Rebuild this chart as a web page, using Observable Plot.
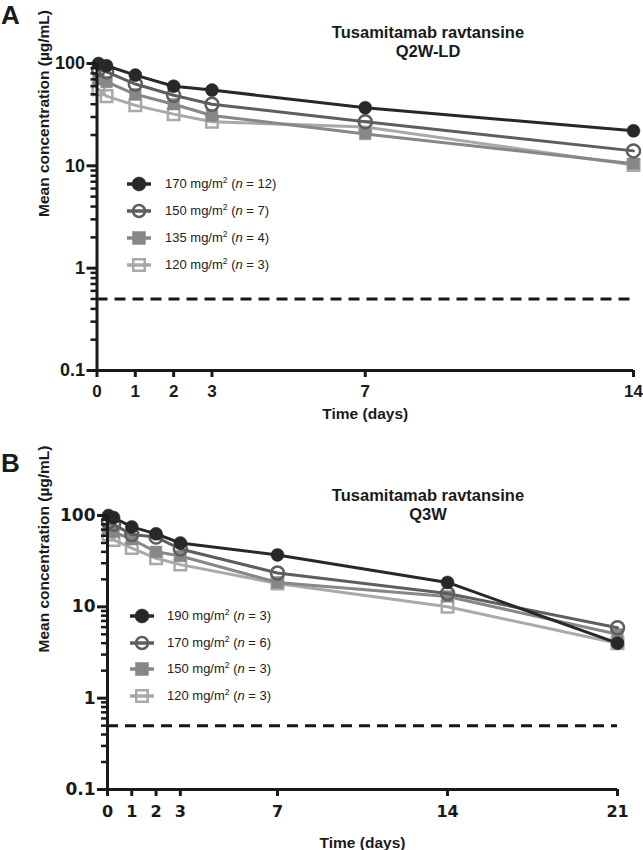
<!DOCTYPE html>
<html>
<head>
<meta charset="utf-8">
<script src="https://cdn.jsdelivr.net/npm/d3@7"></script>
<script src="https://cdn.jsdelivr.net/npm/@observablehq/plot@0.6"></script>
<style>
  html, body { margin: 0; padding: 0; background: #fff; }
  #root { position: relative; width: 643px; height: 850px; overflow: hidden; font-family: "Liberation Sans", Arial, sans-serif; color: #1a1a1a; }
  .panel { position: absolute; left: 0; width: 643px; }
  .abs { position: absolute; white-space: nowrap; }
  .letter { font-size: 26px; font-weight: bold; line-height: 26px; }
  .title { width: 400px; text-align: center; font-size: 16.5px; font-weight: bold; line-height: 18.5px; }
  .legtext { font-size: 13px; line-height: 18px; color: #222; }
  .legtext sup { font-size: 8.5px; vertical-align: 5px; line-height: 0; }
</style>
</head>
<body>
<div id="root"></div>
<script>
// ---------------- DATA ----------------
// Panel A: Q2W-LD
const titleA = ["Tusamitamab ravtansine", "Q2W-LD"];
const daysA = [0.04, 0.25, 1, 2, 3, 7, 14];
const dosesA = [170, 150, 135, 120];
const nA = [12, 7, 4, 3];
const concA_170 = [100, 95, 77, 60, 55, 37, 22];
const concA_150 = [88, 83, 63, 49, 40, 27, 14];
const concA_135 = [70, 66, 50, 40, 31, 20.5, 10.5];
const concA_120 = [56, 48, 39, 32, 27, 24, 10.2];
const xTicksA = [0, 1, 2, 3, 7, 14];

// Panel B: Q3W
const titleB = ["Tusamitamab ravtansine", "Q3W"];
const daysB = [0.04, 0.25, 1, 2, 3, 7, 14, 21];
const dosesB = [190, 170, 150, 120];
const nB = [3, 6, 3, 3];
const concB_190 = [100, 95, 75, 63, 50, 37, 18.5, 4.0];
const concB_170 = [85, 80, 62, 58, 43, 23.5, 14, 5.9];
const concB_150 = [72, 66, 55, 40, 36, 18.5, 13, 5.0];
const concB_120 = [62, 54, 44, 34, 29, 18, 10, 4.0];
const xTicksB = [0, 1, 2, 3, 7, 14, 21];

const yTicks = [0.1, 1, 10, 100];
const yMinorTicks = [0.2, 0.3, 0.4, 0.5, 0.6, 0.7, 0.8, 0.9, 2, 3, 4, 5, 6, 7, 8, 9, 20, 30, 40, 50, 60, 70, 80, 90];
const lloq = 0.5;
const yLabel = "Mean concentration (µg/mL)";
const xLabel = "Time (days)";

// ---------------- STYLES ----------------
const seriesStyle = [
  {color: "#282828", symbol: "circle", filled: true},
  {color: "#5e5e5e", symbol: "circle", filled: false},
  {color: "#878787", symbol: "square", filled: true},
  {color: "#a9a9a9", symbol: "square", filled: false}
];

const root = document.getElementById("root");

function seriesMarks(days, concs) {
  const marks = [];
  for (let i = concs.length - 1; i >= 0; i--) {
    const st = seriesStyle[i];
    const rows = days.map((t, j) => ({t, v: concs[i][j]}));
    marks.push(Plot.line(rows, {x: "t", y: "v", stroke: st.color, strokeWidth: 3}));
    marks.push(Plot.dot(rows, {
      x: "t", y: "v", symbol: st.symbol, r: 6.5,
      fill: st.filled ? st.color : "none",
      stroke: st.color, strokeWidth: st.filled ? 0.5 : 2.5
    }));
  }
  return marks;
}

function makePanel(cfg) {
  const div = document.createElement("div");
  div.className = "panel";
  div.style.top = cfg.top + "px";
  div.style.height = cfg.height + "px";
  root.appendChild(div);

  const chart = Plot.plot({
    width: 643, height: cfg.height,
    marginTop: cfg.marginTop, marginBottom: cfg.marginBottom,
    marginLeft: cfg.marginLeft, marginRight: cfg.marginRight,
    x: {domain: [0, cfg.xMax]},
    y: {type: "log", domain: [0.1, 100]},
    style: {fontFamily: "'Liberation Sans', Arial, sans-serif", color: "#1a1a1a", background: "transparent", overflow: "visible"},
    marks: [
      Plot.ruleY([lloq], {stroke: "#161616", strokeWidth: 3, strokeDasharray: "11,7"}),
      ...seriesMarks(cfg.days, cfg.concs),
      Plot.ruleX([0], {stroke: "#1a1a1a", strokeWidth: 3}),
      Plot.ruleY([0.1], {stroke: "#1a1a1a", strokeWidth: 3}),
      Plot.axisY({ticks: yMinorTicks, tickSize: 6, tickFormat: () => "", strokeWidth: 2.5, label: null}),
      Plot.axisY({ticks: yTicks, tickSize: 10, tickPadding: 2, tickFormat: d => String(d),
        strokeWidth: 3, fontSize: cfg.yTickFont, fontWeight: "bold", fontFamily: cfg.tickFamily, label: null}),
      Plot.axisX({ticks: cfg.xTicks, tickSize: 7, tickPadding: cfg.xTickPad, tickFormat: d => String(d),
        strokeWidth: 3, fontSize: cfg.xTickFont, fontWeight: "bold", fontFamily: cfg.tickFamily, label: null}),
      Plot.text([yLabel], {frameAnchor: "left", dx: cfg.yLabelDx, rotate: -90, fontSize: 15.5, fontWeight: "bold", lineAnchor: "middle"}),
      Plot.text([xLabel], {frameAnchor: "bottom", dy: cfg.xLabelDy, fontSize: 15.5, fontWeight: "bold", lineAnchor: "middle"})
    ]
  });
  chart.style.position = "absolute";
  chart.style.left = "0px";
  chart.style.top = "0px";
  div.appendChild(chart);

  const L = document.createElement("div");
  L.className = "abs letter";
  L.style.left = "1px"; L.style.top = cfg.letterTop + "px";
  L.textContent = cfg.letter;
  div.appendChild(L);

  const T = document.createElement("div");
  T.className = "abs title";
  T.style.left = (428 - 200) + "px"; T.style.top = cfg.titleTop + "px";
  T.innerHTML = cfg.title.join("<br>");
  div.appendChild(T);

  cfg.doses.forEach((dose, i) => {
    const st = seriesStyle[i];
    const cy = cfg.legTop + i * cfg.legStep;
    const ns = "http://www.w3.org/2000/svg";
    const svg = document.createElementNS(ns, "svg");
    svg.setAttribute("width", 28); svg.setAttribute("height", 18);
    svg.style.position = "absolute";
    svg.style.left = (cfg.legX - 14) + "px";
    svg.style.top = (cy - 9) + "px";
    svg.style.overflow = "visible";
    const ln = document.createElementNS(ns, "line");
    ln.setAttribute("x1", 2); ln.setAttribute("x2", 26); ln.setAttribute("y1", 9); ln.setAttribute("y2", 9);
    ln.setAttribute("stroke", st.color); ln.setAttribute("stroke-width", 3.5);
    svg.appendChild(ln);
    let m;
    if (st.symbol === "circle") {
      m = document.createElementNS(ns, "circle");
      m.setAttribute("cx", 14); m.setAttribute("cy", 9); m.setAttribute("r", st.filled ? 7 : 6);
    } else {
      m = document.createElementNS(ns, "rect");
      const s = st.filled ? 13 : 11.5;
      m.setAttribute("x", 14 - s / 2); m.setAttribute("y", 9 - s / 2);
      m.setAttribute("width", s); m.setAttribute("height", s);
    }
    m.setAttribute("fill", st.filled ? st.color : "none");
    m.setAttribute("stroke", st.color);
    m.setAttribute("stroke-width", st.filled ? 0.5 : 2.5);
    svg.appendChild(m);
    div.appendChild(svg);

    const tx = document.createElement("div");
    tx.className = "abs legtext";
    tx.style.left = cfg.legTextX + "px";
    tx.style.top = (cy - 9) + "px";
    tx.innerHTML = dose + " mg/m<sup>2</sup> (<i>n</i> = " + cfg.ns[i] + ")";
    div.appendChild(tx);
  });
}

makePanel({
  top: 0, height: 425, marginTop: 63, marginBottom: 55, marginLeft: 96.5, marginRight: 10,
  xMax: 14, days: daysA, concs: [concA_170, concA_150, concA_135, concA_120],
  xTicks: xTicksA, xTickPad: 7, xTickFont: 17, yTickFont: 18,
  tickFamily: "'Liberation Sans', Arial, sans-serif",
  yLabelDx: -53, xLabelDy: 44,
  letter: "A", letterTop: 2, title: titleA, titleTop: 23,
  doses: dosesA, ns: nA, legTop: 184, legStep: 27, legX: 138.5, legTextX: 165
});

makePanel({
  top: 430, height: 419, marginTop: 85, marginBottom: 60, marginLeft: 107, marginRight: 26,
  xMax: 21, days: daysB, concs: [concB_190, concB_170, concB_150, concB_120],
  xTicks: xTicksB, xTickPad: 9, xTickFont: 16, yTickFont: 17,
  tickFamily: "'DejaVu Sans', Verdana, sans-serif",
  yLabelDx: -63, xLabelDy: 54,
  letter: "B", letterTop: 20, title: titleB, titleTop: 56,
  doses: dosesB, ns: nB, legTop: 186, legStep: 26.7, legX: 142, legTextX: 167
});
</script>
</body>
</html>
